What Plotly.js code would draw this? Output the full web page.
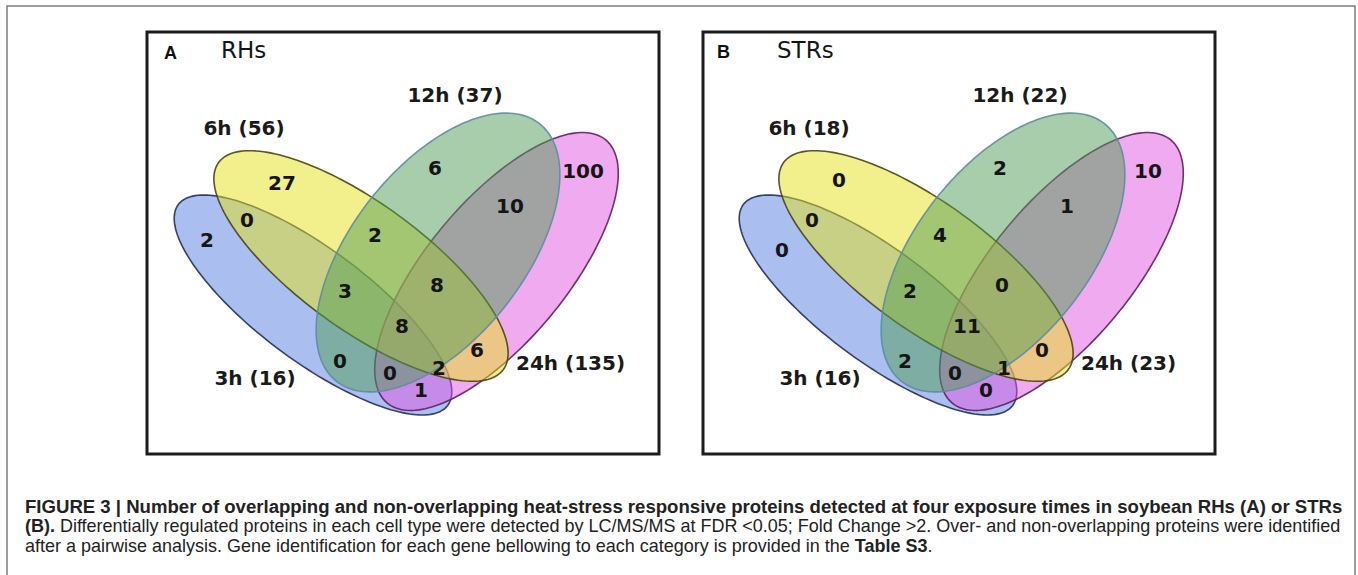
<!DOCTYPE html>
<html>
<head>
<meta charset="utf-8">
<script src="https://cdn.plot.ly/plotly-3.0.1.min.js"></script>
<style>
  html, body { margin: 0; padding: 0; background: #ffffff; }
  #fig { width: 1358px; height: 575px; }
</style>
</head>
<body>
<div id="fig"></div>
<script>
// ---- data -------------------------------------------------------------
// The four exposure times (sets of the Venn diagram)
const setNames = ['3h', '6h', '12h', '24h'];

// Venn regions, each listed by the sets it belongs to (indexes into setNames)
const regionSets = [
  [0], [0, 1], [1], [1, 2], [0, 1, 2], [0, 2], [0, 2, 3], [0, 3],
  [0, 1, 2, 3], [0, 1, 3], [1, 3], [1, 2, 3], [2, 3], [2], [3]
];

// Protein counts per region, root hairs (RHs)
const countsRHs = [2, 0, 27, 2, 3, 0, 0, 1, 8, 2, 6, 8, 10, 6, 100];
// Protein counts per region, stripped roots (STRs)
const countsSTRs = [0, 0, 0, 4, 2, 2, 0, 0, 11, 1, 0, 0, 1, 2, 10];

const panelLetters = ['A', 'B'];
const panelTitles = ['RHs', 'STRs'];

const captionLines = [
  '<b>FIGURE 3 | Number of overlapping and non-overlapping heat-stress responsive proteins detected at four exposure times in soybean RHs (A) or STRs</b>',
  '<b>(B).</b> Differentially regulated proteins in each cell type were detected by LC/MS/MS at FDR &lt;0.05; Fold Change &gt;2. Over- and non-overlapping proteins were identified',
  'after a pairwise analysis. Gene identification for each gene bellowing to each category is provided in the <b>Table S3</b>.'
];

// ---- layout geometry (pixel units of the page) ------------------------
const W = 1358, H = 575;
const panels = [
  { box: [147, 659, 32, 454], venn: 0,   letter: [170, 53], title: [243, 50], counts: countsRHs,
    nudge: {} },
  { box: [703, 1215, 32, 454], venn: 565, letter: [723, 52], title: [805, 50], counts: countsSTRs,
    nudge: { 0: [10, 10], 2: [-8, -3], 12: [-8, 0] } }
];

// ellipses drawn bottom to top: 3h, 24h, 6h, 12h
const ellipses = [
  { set: 0, cx: 313,   cy: 305,   a: 168, b: 56, deg: 36.7,
    fill: 'rgba(85,125,225,0.5)',  line: 'rgba(35,45,95,0.9)' },
  { set: 3, cx: 496.5, cy: 271.5, a: 171, b: 70, deg: -50.3,
    fill: 'rgba(225,85,225,0.5)',  line: 'rgba(95,30,95,0.9)' },
  { set: 1, cx: 361,   cy: 266,   a: 176, b: 63, deg: 36.0,
    fill: 'rgba(229,225,25,0.5)',  line: 'rgba(70,68,20,0.9)' },
  { set: 2, cx: 438,   cy: 252.5, a: 164, b: 86, deg: -51.8,
    fill: 'rgba(81,155,85,0.5)',   line: 'rgba(95,140,160,0.9)' }
];

// where each region's count is written (panel A frame)
const regionPos = [
  [207, 242], [247, 222], [282, 185], [375, 237], [345, 293], [340, 363], [390, 375], [421, 392],
  [402, 328], [439, 370], [477, 352], [437, 287], [510, 208], [435, 170], [583, 173]
];
// where each set name is written (panel A frame); 24h is left-aligned
const setLabelPos = [[255, 380], [244, 130], [455, 97], [516, 365]];
const setLabelAlign = ['middle center', 'middle center', 'middle center', 'middle right'];

function ellipsePath(e, dx) {
  const t = e.deg * Math.PI / 180, c = Math.cos(t), s = Math.sin(t);
  const pts = [];
  for (let i = 0; i < 180; i++) {
    const p = 2 * Math.PI * i / 180;
    const u = e.a * Math.cos(p), v = e.b * Math.sin(p);
    pts.push((e.cx + dx + u * c - v * s).toFixed(2) + ',' + (e.cy + u * s + v * c).toFixed(2));
  }
  return 'M' + pts.join('L') + 'Z';
}

// caption font size chosen so a line fills the given width (justified look)
const captionFamily = 'Liberation Sans';
const meas = document.createElement('canvas').getContext('2d');
function lineWidth(html, size) {
  const decoded = html.replace(/&lt;/g, '<').replace(/&gt;/g, '>');
  const parts = decoded.split(/(<b>|<\/b>)/);
  let bold = false, w = 0;
  parts.forEach((p) => {
    if (p === '<b>') { bold = true; return; }
    if (p === '</b>') { bold = false; return; }
    meas.font = (bold ? 'bold ' : '') + size + 'px "' + captionFamily + '"';
    w += meas.measureText(p).width;
  });
  return w;
}
const captionLeft = 23;
const size1 = 17 * (1341 - captionLeft) / lineWidth(captionLines[0], 17);
const size2 = 17 * (1339 - captionLeft) / lineWidth(captionLines[1], 17);
const captionSizes = [size1, size2, size2];

const shapes = [];
const traces = [];
const annotations = [];

// outer figure frame
shapes.push({ type: 'rect', xref: 'x', yref: 'y', x0: 7, x1: 1355, y0: 6, y1: 590,
  line: { color: '#7d7d7d', width: 1.5 }, fillcolor: 'rgba(0,0,0,0)', layer: 'below' });

panels.forEach((pn) => {
  const [bx0, bx1, by0, by1] = pn.box;
  shapes.push({ type: 'rect', xref: 'x', yref: 'y', x0: bx0, x1: bx1, y0: by0, y1: by1,
    line: { color: '#1c1c1c', width: 3 }, fillcolor: 'rgba(0,0,0,0)', layer: 'below' });
  ellipses.forEach((e) => {
    shapes.push({ type: 'path', xref: 'x', yref: 'y', path: ellipsePath(e, pn.venn),
      fillcolor: e.fill, line: { color: e.line, width: 1.6 }, layer: 'below' });
  });

  // region counts
  traces.push({
    type: 'scatter', mode: 'text', hoverinfo: 'skip', showlegend: false, cliponaxis: false,
    x: regionPos.map((p, i) => p[0] + pn.venn + (pn.nudge[i] ? pn.nudge[i][0] : 0)),
    y: regionPos.map((p, i) => p[1] + (pn.nudge[i] ? pn.nudge[i][1] : 0)),
    text: pn.counts.map(String),
    textposition: 'middle center',
    textfont: { family: 'DejaVu Sans', size: 20, color: '#151515', weight: 'bold' }
  });

  // set names with their totals
  const totals = setNames.map((_, si) =>
    regionSets.reduce((acc, rs, ri) => acc + (rs.includes(si) ? pn.counts[ri] : 0), 0));
  traces.push({
    type: 'scatter', mode: 'text', hoverinfo: 'skip', showlegend: false, cliponaxis: false,
    x: setLabelPos.map(p => p[0] + pn.venn),
    y: setLabelPos.map(p => p[1]),
    text: setNames.map((n, i) => n + ' (' + totals[i] + ')'),
    textposition: setLabelAlign,
    textfont: { family: 'DejaVu Sans', size: 20, color: '#1a1a1a', weight: 'bold' }
  });
});

panels.forEach((pn, k) => {
  annotations.push({ xref: 'x', yref: 'y', x: pn.letter[0], y: pn.letter[1], showarrow: false,
    text: '<b>' + panelLetters[k] + '</b>', xanchor: 'center', yanchor: 'middle',
    font: { family: 'Liberation Sans', size: 18, color: '#111111' } });
  annotations.push({ xref: 'x', yref: 'y', x: pn.title[0], y: pn.title[1], showarrow: false,
    text: panelTitles[k], xanchor: 'center', yanchor: 'middle',
    font: { family: 'DejaVu Sans', size: 23, color: '#151515' } });
});

const captionY = [506, 526, 546];
captionLines.forEach((t, i) => {
  annotations.push({ xref: 'x', yref: 'y', x: captionLeft, y: captionY[i], showarrow: false,
    text: t, xanchor: 'left', yanchor: 'middle', align: 'left',
    font: { family: captionFamily, size: captionSizes[i], color: '#222222' } });
});

const layout = {
  width: W, height: H,
  margin: { l: 0, r: 0, t: 0, b: 0 },
  paper_bgcolor: '#ffffff', plot_bgcolor: '#ffffff',
  xaxis: { range: [0, W], visible: false, fixedrange: true },
  yaxis: { range: [H, 0], visible: false, fixedrange: true },
  shapes: shapes,
  annotations: annotations,
  showlegend: false
};

Plotly.newPlot('fig', traces, layout, { staticPlot: true, displayModeBar: false });
</script>
</body>
</html>
